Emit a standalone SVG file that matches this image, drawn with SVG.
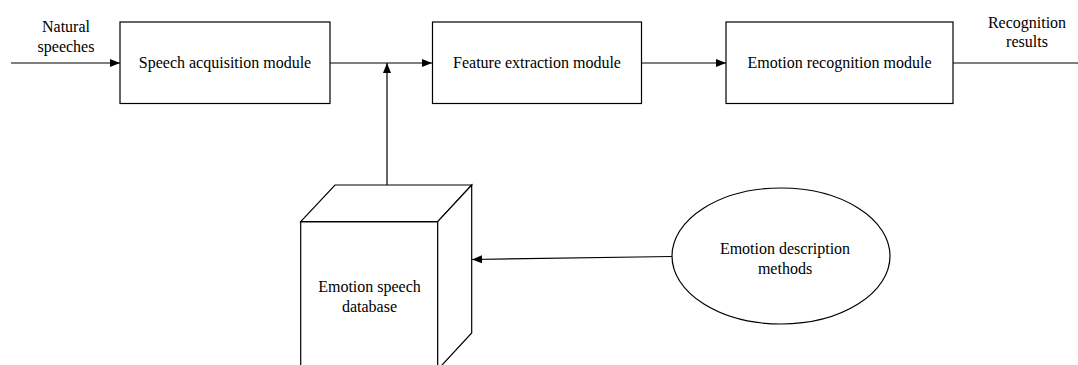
<svg xmlns="http://www.w3.org/2000/svg" width="1078" height="365" viewBox="0 0 1078 365">
<style>
.shape{fill:#fff;stroke:#000;stroke-width:1.2}
.ln{fill:none;stroke:#000;stroke-width:1.2}
text{font-family:"Liberation Serif","Times New Roman",serif;font-size:16px;fill:#000;text-anchor:middle}
</style>
<defs>
<marker id="arr" markerUnits="userSpaceOnUse" markerWidth="10" markerHeight="10" viewBox="0 0 10 10" refX="10" refY="5" orient="auto">
<path d="M0,1 L10,5 L0,9 Z" fill="#000"/>
</marker>
</defs>
<rect width="1078" height="365" fill="#fff"/>
<g id="connectors">
<line class="ln" x1="11" y1="63" x2="120" y2="63" marker-end="url(#arr)"/>
<line class="ln" x1="330" y1="63" x2="432" y2="63" marker-end="url(#arr)"/>
<line class="ln" x1="387" y1="185" x2="387" y2="63" marker-end="url(#arr)"/>
<line class="ln" x1="641.5" y1="63" x2="726" y2="63" marker-end="url(#arr)"/>
<line class="ln" x1="953" y1="63" x2="1078" y2="63"/>
<line class="ln" x1="672" y1="256.5" x2="472" y2="259.5" marker-end="url(#arr)"/>
</g>
<g id="label-in">
<text x="66" y="32">Natural</text>
<text x="66" y="52">speeches</text>
</g>
<g id="label-out">
<text x="1027" y="28">Recognition</text>
<text x="1027" y="47">results</text>
</g>
<g id="speech-acquisition">
<rect class="shape" x="120" y="22" width="210" height="81.5"/>
<text x="225" y="68">Speech acquisition module</text>
</g>
<g id="feature-extraction">
<rect class="shape" x="432.5" y="22" width="209" height="81.5"/>
<text x="537" y="68">Feature extraction module</text>
</g>
<g id="emotion-recognition">
<rect class="shape" x="726" y="22" width="227" height="81.5"/>
<text x="839.5" y="68">Emotion recognition module</text>
</g>
<g id="emotion-database">
<rect class="shape" x="300.7" y="221.7" width="137" height="148"/>
<polygon class="shape" points="300.7,221.7 335,185 471.7,185 437.7,221.7"/>
<polygon class="shape" points="437.7,221.7 471.7,185 471.7,333 437.7,369.7"/>
<text x="369.5" y="291.5">Emotion speech</text>
<text x="369.5" y="311.5">database</text>
</g>
<g id="emotion-description">
<ellipse class="shape" cx="781" cy="256" rx="109" ry="68"/>
<text x="785" y="253.5">Emotion description</text>
<text x="785" y="273.5">methods</text>
</g>
</svg>
